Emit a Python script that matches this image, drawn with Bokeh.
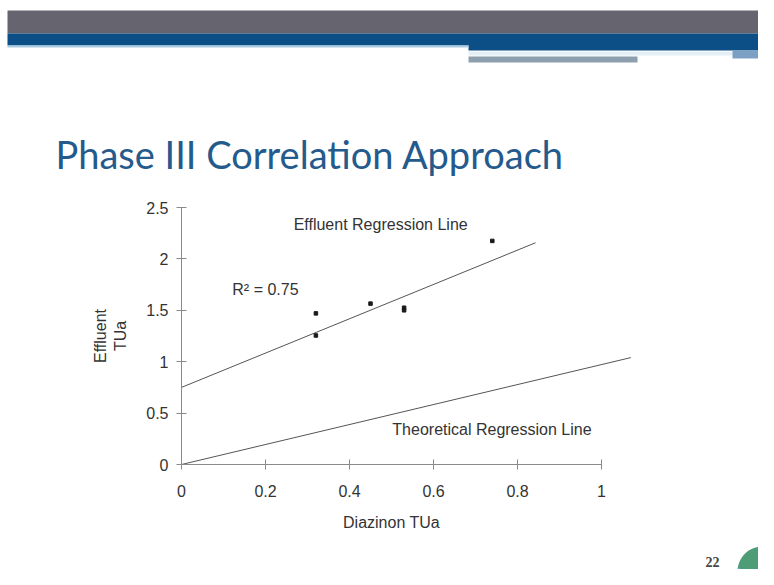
import numpy as np
from bokeh.plotting import figure
from bokeh.models import (Range1d, FixedTicker, LinearAxis, Label, BoxAnnotation,
                          PolyAnnotation)
from bokeh.embed import file_html
from bokeh.resources import INLINE

# ---------------- data ----------------
diazinon_tua = [0.32, 0.32, 0.45, 0.53, 0.53, 0.74]
effluent_tua = [1.47, 1.255, 1.565, 1.525, 1.50, 2.175]

eff_line_x = [0.0, 0.843]
eff_line_y = [0.75, 2.157]

theo_line_x = [0.0, 1.07]
theo_line_y = [0.0, 1.04]

x_ticks = [0, 0.2, 0.4, 0.6, 0.8, 1]
x_tick_labels = ["0", "0.2", "0.4", "0.6", "0.8", "1"]
y_ticks = [0, 0.5, 1, 1.5, 2, 2.5]
y_tick_labels = ["0", "0.5", "1", "1.5", "2", "2.5"]

title_text = "Phase III Correlation Approach"
x_label = "Diazinon TUa"
y_label = "Effluent\nTUa"
eff_label = "Effluent Regression Line"
theo_label = "Theoretical Regression Line"
r2_label = "R\u00b2 = 0.75"
page_number = "22"

# ---------------- layout ----------------
W, H = 758, 569
X0, PX_X = 181, 420.0          # canvas px of x=0, px per unit
Y0, PX_Y = 464, 102.8          # canvas px (from top) of y=0, px per unit
x_range = Range1d(-X0 / PX_X, (W - X0) / PX_X)
y_range = Range1d(-(H - Y0) / PX_Y, Y0 / PX_Y)

p = figure(width=W, height=H, x_range=x_range, y_range=y_range,
           output_backend="svg", toolbar_location=None,
           x_axis_location=None, y_axis_location=None,
           min_border=0, min_border_left=0, min_border_right=0,
           min_border_top=0, min_border_bottom=0)
p.outline_line_color = None
p.grid.visible = False
p.background_fill_color = "white"
p.border_fill_color = "white"

FONT = "Liberation Sans"
TXT = "#333333"
AX = "#8a8a8a"

xaxis = LinearAxis(fixed_location=0, bounds=(0, 1),
                   ticker=FixedTicker(ticks=x_ticks),
                   major_label_overrides={t: l for t, l in zip(x_ticks, x_tick_labels)},
                   axis_label=x_label)
yaxis = LinearAxis(fixed_location=0, bounds=(0, 2.5),
                   ticker=FixedTicker(ticks=y_ticks),
                   major_label_overrides={t: l for t, l in zip(y_ticks, y_tick_labels)},
                   axis_label=y_label)
for ax in (xaxis, yaxis):
    ax.axis_line_color = AX
    ax.major_tick_line_color = AX
    ax.minor_tick_line_color = None
    ax.major_tick_in = 5
    ax.major_tick_out = 5
    ax.major_label_text_font = FONT
    ax.major_label_text_font_size = "16px"
    ax.major_label_text_color = TXT
    ax.axis_label_text_font = FONT
    ax.axis_label_text_font_size = "16px"
    ax.axis_label_text_font_style = "normal"
    ax.axis_label_text_color = TXT
xaxis.major_label_standoff = 15
xaxis.axis_label_standoff = 14
yaxis.major_label_standoff = 8
yaxis.axis_label_standoff = 14
p.add_layout(xaxis, "below")
p.add_layout(yaxis, "left")

# lines and points
p.line(eff_line_x, eff_line_y, line_color="#555555", line_width=1)
p.line(theo_line_x, theo_line_y, line_color="#555555", line_width=1)
p.scatter(diazinon_tua, effluent_tua, marker="square", size=3.5,
          fill_color="#1a1a1a", line_color="#1a1a1a")

# chart annotations (data coordinates, text centre)
for txt, x, y in [(eff_label, 0.267, 2.33), (r2_label, 0.121, 1.707),
                  (theo_label, 0.502, 0.340)]:
    p.add_layout(Label(x=x, y=y, text=txt, text_font=FONT, text_font_size="16px",
                       text_color=TXT, text_align="left", text_baseline="middle"))

# ---------------- slide decorations (screen units) ----------------
def sy(page_y):
    return H - page_y

def box(x0, x1, y0, y1, color):
    p.add_layout(BoxAnnotation(left=x0, right=x1, top=sy(y0), bottom=sy(y1),
                               left_units="screen", right_units="screen",
                               top_units="screen", bottom_units="screen",
                               fill_color=color, fill_alpha=1.0, line_alpha=0,
                               level="underlay"))

box(7, W, 10, 33, "#65646f")
box(7, W, 33, 45, "#0c4f86")
box(468, W, 44, 50, "#0c4f86")
box(7, 468, 45, 47, "#a9cbe4")
box(468, 732, 51, 55, "#e4f0f8")
box(468, 637, 56, 62, "#8d9eae")
box(732, W, 50, 58, "#7c9fc4")

p.add_layout(Label(x=55, y=sy(153), x_units="screen", y_units="screen",
                   text=title_text, text_font="Lato", text_font_size="38px",
                   text_color="#245a8c", text_baseline="middle"))

p.add_layout(Label(x=705, y=sy(561), x_units="screen", y_units="screen",
                   text=page_number, text_font="Liberation Serif", text_font_size="14px",
                   text_font_style="bold", text_color="#444444",
                   text_baseline="middle"))

# logo (partial circle at bottom right)
t = np.linspace(0, 2 * np.pi, 60)
cx, cy, r = 762, sy(571), 25
p.add_layout(PolyAnnotation(xs=list(cx + r * np.cos(t)), ys=list(cy + r * np.sin(t)),
                            xs_units="screen", ys_units="screen",
                            fill_color="#4f9d76", fill_alpha=1, line_alpha=0))
t2 = np.linspace(np.pi * 0.95, np.pi * 1.6, 30)
wx = list(cx + r * np.cos(t2)) + [cx + 10, cx - 8]
wy = list(cy + r * np.sin(t2)) + [cy - 18, cy - 4]
p.add_layout(PolyAnnotation(xs=wx, ys=wy, xs_units="screen", ys_units="screen",
                            fill_color="#5fb7c2", fill_alpha=1, line_alpha=0))

open("out.html", "w").write(file_html(p, INLINE))
